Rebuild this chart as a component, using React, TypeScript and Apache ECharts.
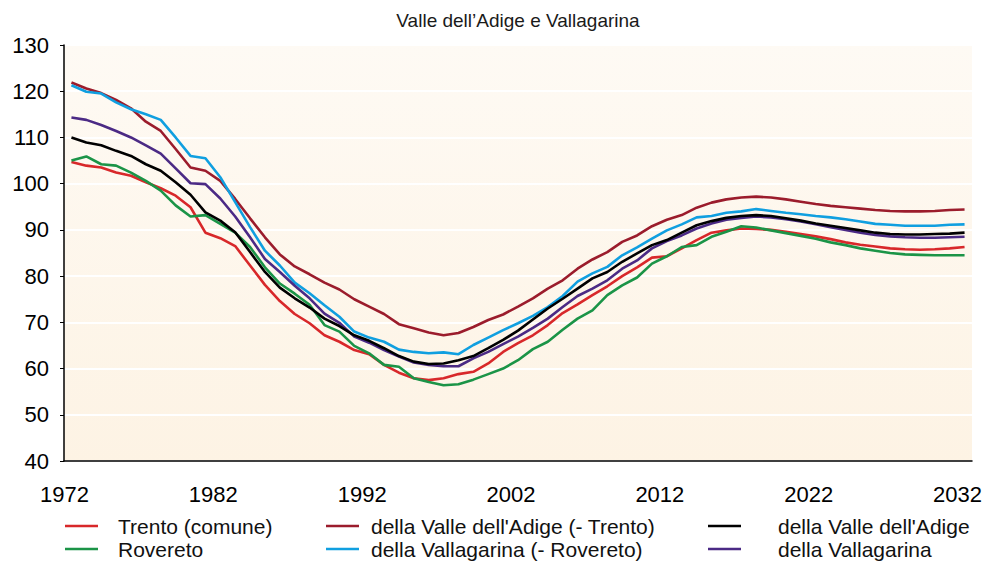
import React, { useEffect, useRef } from "react";
import * as echarts from "echarts";

const FONT = "'Liberation Sans', Arial, sans-serif";

const TITLE = "Valle dell’Adige e Vallagarina";

const years: string[] = Array.from({ length: 61 }, (_, i) => String(1972 + i));

const seriesNames = [
  "Trento (comune)",
  "della Valle dell'Adige (- Trento)",
  "della Valle dell'Adige",
  "Rovereto",
  "della Vallagarina (- Rovereto)",
  "della Vallagarina",
];

const seriesColors = ["#d8282a", "#9b1c2c", "#000000", "#1b9447", "#109fe0", "#4b2a85"];

const trento = [
  104.7, 103.9, 103.5, 102.4, 101.7, 100.3, 99.0, 97.4, 94.9, 89.4,
  88.2, 86.5, 82.3, 78.1, 74.6, 71.8, 69.8, 67.2, 65.8, 64.0,
  63.1, 60.8, 59.1, 57.9, 57.5, 57.9, 58.8, 59.3, 61.1, 63.6,
  65.5, 67.2, 69.4, 72.0, 73.9, 75.9, 77.8, 80.0, 81.9, 84.0,
  84.3, 86.0, 87.8, 89.4, 89.9, 90.3, 90.2, 90.0, 89.6, 89.1,
  88.6, 88.0, 87.3, 86.8, 86.4, 86.0, 85.8, 85.7, 85.8, 86.0,
  86.3,
];

const valleAdigeMenoTrento = [
  121.9, 120.6, 119.6, 118.1, 116.3, 113.4, 111.4, 107.5, 103.5, 102.8,
  100.6, 96.7, 92.5, 88.4, 84.7, 82.1, 80.4, 78.6, 77.1, 75.0,
  73.4, 71.8, 69.6, 68.7, 67.8, 67.2, 67.7, 69.0, 70.5, 71.7,
  73.4, 75.2, 77.3, 79.1, 81.6, 83.6, 85.2, 87.4, 88.8, 90.8,
  92.2, 93.2, 94.8, 95.9, 96.6, 97.0, 97.2, 97.0, 96.6, 96.1,
  95.6, 95.2, 94.9, 94.6, 94.3, 94.1, 94.0, 94.0, 94.1, 94.3,
  94.4,
];

const valleAdige = [
  110.0, 108.9, 108.3, 107.1, 106.0, 104.2, 102.8, 100.3, 97.6, 93.8,
  92.0, 89.5, 85.2, 80.9, 77.5, 75.2, 73.2, 70.8, 69.2, 67.2,
  66.0, 64.4, 62.7, 61.5, 61.0, 61.1, 61.8, 62.7, 64.4, 66.2,
  68.2, 70.6, 73.0, 75.1, 77.3, 79.5, 80.9, 83.1, 84.9, 86.7,
  87.8, 89.4, 91.0, 91.9, 92.6, 93.0, 93.2, 93.0, 92.5, 92.0,
  91.4, 90.9, 90.4, 89.9, 89.4, 89.1, 89.0, 89.0, 89.1, 89.2,
  89.4,
];

const rovereto = [
  105.0, 105.9, 104.2, 103.9, 102.4, 100.6, 98.5, 95.3, 92.9, 93.2,
  91.3, 89.4, 86.3, 81.9, 78.4, 76.2, 73.8, 69.4, 68.0, 64.9,
  63.3, 60.8, 60.4, 57.9, 57.1, 56.4, 56.6, 57.6, 58.8, 60.0,
  61.8, 64.2, 65.8, 68.4, 70.8, 72.6, 75.9, 78.0, 79.7, 82.7,
  84.3, 86.3, 86.7, 88.5, 89.6, 90.8, 90.5, 89.9, 89.3, 88.7,
  88.1, 87.3, 86.7, 86.0, 85.5, 85.0, 84.7, 84.6, 84.5, 84.5,
  84.5,
];

const vallagarinaMenoRovereto = [
  121.3, 119.9, 119.5, 117.6, 116.1, 115.0, 113.8, 110.0, 106.0, 105.5,
  101.4, 96.0, 90.6, 85.5, 82.3, 78.6, 76.3, 73.7, 71.2, 68.0,
  66.7, 65.8, 64.1, 63.6, 63.3, 63.5, 63.1, 65.1, 66.7, 68.3,
  69.8, 71.4, 73.3, 75.7, 78.8, 80.6, 82.0, 84.5, 86.2, 88.1,
  89.9, 91.2, 92.7, 93.0, 93.7, 94.0, 94.5, 94.1, 93.7, 93.4,
  93.0, 92.7, 92.3, 91.8, 91.3, 91.1, 90.9, 90.9, 90.9, 91.1,
  91.2,
];

const vallagarina = [
  114.3, 113.8, 112.7, 111.4, 110.0, 108.3, 106.5, 103.3, 100.1, 99.9,
  96.8, 92.9, 88.4, 83.7, 80.9, 77.9, 75.2, 71.9, 69.9, 66.9,
  65.6, 64.0, 62.6, 61.3, 60.8, 60.5, 60.5, 62.2, 63.6, 65.3,
  66.9, 68.8, 70.8, 73.3, 75.7, 77.3, 79.1, 81.6, 83.4, 86.0,
  87.6, 88.8, 90.3, 91.4, 92.2, 92.6, 92.9, 92.7, 92.3, 91.8,
  91.2, 90.6, 90.0, 89.4, 88.9, 88.6, 88.4, 88.3, 88.3, 88.4,
  88.5,
];

const seriesData = [trento, valleAdigeMenoTrento, valleAdige, rovereto, vallagarinaMenoRovereto, vallagarina];

// legend layout (3 columns x 2 rows)
const legendLineX = [65, 326, 708];
const legendTextX = [118, 371, 778];
const legendRowY = [526, 549];

export default function App() {
  const ref = useRef<HTMLDivElement>(null);

  useEffect(() => {
    if (!ref.current) return;
    const chart = echarts.init(ref.current, undefined, { renderer: "svg" });

    const legendGraphics: any[] = [];
    seriesNames.forEach((name, k) => {
      const col = k % 3;
      const row = Math.floor(k / 3);
      const y = legendRowY[row];
      legendGraphics.push({
        type: "line",
        shape: { x1: legendLineX[col], y1: y, x2: legendLineX[col] + 33, y2: y },
        style: { stroke: seriesColors[k], lineWidth: 2.5 },
        silent: true,
      });
      legendGraphics.push({
        type: "text",
        x: legendTextX[col],
        y: y,
        style: {
          text: name,
          fontSize: 21,
          fontFamily: FONT,
          fill: "#111",
          align: "left",
          verticalAlign: "middle",
        },
        silent: true,
      });
    });

    const option: any = {
      animation: false,
      backgroundColor: "#ffffff",
      textStyle: { fontFamily: FONT },
      grid: {
        left: 64,
        right: 19,
        top: 45,
        bottom: 103,
        show: true,
        borderWidth: 0,
        backgroundColor: new echarts.graphic.LinearGradient(0, 0, 0, 1, [
          { offset: 0, color: "#fefaf4" },
          { offset: 1, color: "#fdf3e4" },
        ]),
      },
      xAxis: {
        type: "category",
        data: years,
        boundaryGap: true,
        axisLine: { lineStyle: { color: "#000", width: 1.5 } },
        axisTick: { interval: 4, length: 5, lineStyle: { color: "#555", width: 1.5 } },
        axisLabel: {
          interval: 9,
          margin: 22,
          fontSize: 22,
          color: "#000",
          fontFamily: FONT,
          padding: [0, 14, 0, 0],
        },
        splitLine: { show: false },
      },
      yAxis: {
        type: "value",
        min: 40,
        max: 130,
        interval: 10,
        axisLine: { show: true, lineStyle: { color: "#000", width: 1.5 } },
        axisTick: { show: true, length: 4, lineStyle: { color: "#000" } },
        axisLabel: { fontSize: 22, margin: 15, color: "#000", fontFamily: FONT },
        splitLine: { show: true, lineStyle: { color: "#ffffff", width: 2 } },
      },
      series: seriesNames.map((name, k) => ({
        name,
        type: "line",
        data: seriesData[k],
        symbol: "none",
        smooth: false,
        lineStyle: { color: seriesColors[k], width: 2.6 },
        itemStyle: { color: seriesColors[k] },
        z: k === 2 ? 4 : 3,
      })),
      graphic: [
        {
          type: "text",
          x: 518,
          y: 20,
          style: {
            text: TITLE,
            fontSize: 19,
            fontFamily: FONT,
            fill: "#1a1a1a",
            align: "center",
            verticalAlign: "middle",
          },
          silent: true,
        },
        ...legendGraphics,
      ],
    };

    chart.setOption(option);
    return () => chart.dispose();
  }, []);

  return (
    <div
      ref={ref}
      style={{ position: "fixed", left: 0, top: 0, width: 991, height: 564, background: "#fff" }}
    />
  );
}
